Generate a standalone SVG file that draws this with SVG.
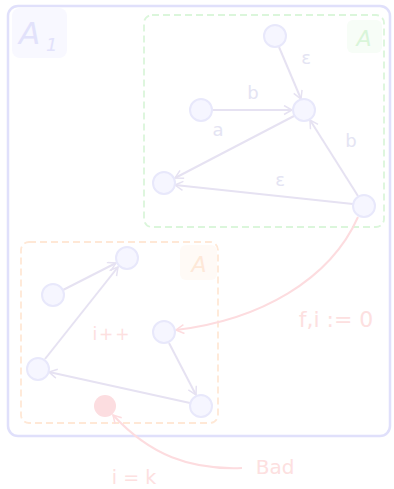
<svg xmlns="http://www.w3.org/2000/svg" width="394" height="489" viewBox="0 0 394 489">
<defs>
<marker id="ah" markerWidth="12" markerHeight="12" refX="9" refY="5" orient="auto" markerUnits="userSpaceOnUse">
<path d="M1,0.5 L9,5 L1,9.5" fill="none" stroke="#e6e2f2" stroke-width="1.5"/>
</marker>
<marker id="ahp" markerWidth="12" markerHeight="12" refX="9" refY="5" orient="auto" markerUnits="userSpaceOnUse">
<path d="M1,0.5 L9,5 L1,9.5" fill="none" stroke="#fddcdf" stroke-width="1.5"/>
</marker>
<style>
.node{fill:#f6f6ff;stroke:#e8e8fb;stroke-width:2}
.edge{fill:none;stroke:#e6e2f2;stroke-width:2;marker-end:url(#ah)}
.pedge{fill:none;stroke:#fddcdf;stroke-width:2;marker-end:url(#ahp)}
.lbl{font-family:"DejaVu Sans",sans-serif;font-size:18px;fill:#e4e4f3;text-anchor:middle}
.plbl{font-family:"DejaVu Sans",sans-serif;fill:#fde0e0;text-anchor:middle}
</style>
</defs>
<g id="A1">
<rect x="8" y="6" width="382" height="430" rx="10" fill="none" stroke="#e0e0fb" stroke-width="2.5"/>
<rect x="12" y="8" width="55" height="50" rx="8" fill="#f8f8ff"/>
<text x="19" y="44" font-family="DejaVu Sans,sans-serif" font-style="italic" font-size="31" fill="#e2e2fb">A</text>
<text x="46" y="51" font-family="DejaVu Sans,sans-serif" font-style="italic" font-size="18" fill="#e2e2fb">1</text>
</g>
<g id="A_green">
<rect x="144" y="15" width="240" height="212" rx="8" fill="none" stroke="#dbf6db" stroke-width="1.8" stroke-dasharray="7,4"/>
<rect x="347" y="20" width="35" height="33" rx="6" fill="#f7fdf7"/>
<text x="364" y="46" font-family="DejaVu Sans,sans-serif" font-style="italic" font-size="22" fill="#d9f5d9" text-anchor="middle">A</text>
</g>
<g id="A_orange">
<rect x="21" y="242" width="197" height="181" rx="8" fill="none" stroke="#ffe8d6" stroke-width="1.8" stroke-dasharray="7,4"/>
<rect x="180" y="245" width="37" height="35" rx="6" fill="#fffaf6"/>
<text x="199" y="272" font-family="DejaVu Sans,sans-serif" font-style="italic" font-size="22" fill="#fee8d8" text-anchor="middle">A</text>
</g>
<g id="connectors">
<line class="edge" x1="279" y1="47" x2="301" y2="99"/>
<line class="edge" x1="212" y1="110" x2="292" y2="110"/>
<line class="edge" x1="294" y1="116" x2="175" y2="178"/>
<line class="edge" x1="358" y1="196" x2="310" y2="120"/>
<line class="edge" x1="353" y1="204" x2="175" y2="185"/>
<line class="edge" x1="63" y1="290" x2="116" y2="263"/>
<line class="edge" x1="45" y1="359" x2="118" y2="267"/>
<line class="edge" x1="169" y1="343" x2="196" y2="395"/>
<line class="edge" x1="190" y1="403" x2="49" y2="372"/>
<path class="pedge" d="M358,217 C330,280 260,320 176,330"/>
<path class="pedge" d="M242,468 C190,470 150,455 113,415"/>
</g>
<g id="labels">
<text class="lbl" x="306" y="64">ε</text>
<text class="lbl" x="253" y="99">b</text>
<text class="lbl" x="218" y="136">a</text>
<text class="lbl" x="351" y="147">b</text>
<text class="lbl" x="280" y="186">ε</text>
<text class="plbl" x="112" y="340" font-size="17" letter-spacing="2">i++</text>
<text class="plbl" x="336" y="327" font-size="22">f,i := 0</text>
<text class="plbl" x="275" y="474" font-size="20">Bad</text>
<text class="plbl" x="134" y="484" font-size="19">i = k</text>
</g>
<g id="n1"><circle class="node" cx="275" cy="36" r="11"/></g>
<g id="n2"><circle class="node" cx="201" cy="110" r="11"/></g>
<g id="n3"><circle class="node" cx="304" cy="110" r="11"/></g>
<g id="n4"><circle class="node" cx="164" cy="183" r="11"/></g>
<g id="n5"><circle class="node" cx="364" cy="206" r="11"/></g>
<g id="o1"><circle class="node" cx="127" cy="258" r="11"/></g>
<g id="o2"><circle class="node" cx="53" cy="295" r="11"/></g>
<g id="o3"><circle class="node" cx="164" cy="332" r="11"/></g>
<g id="o4"><circle class="node" cx="38" cy="369" r="11"/></g>
<g id="o5"><circle class="node" cx="201" cy="406" r="11"/></g>
<g id="bad"><circle cx="105" cy="406" r="11" fill="#fcdde0"/></g>
</svg>
